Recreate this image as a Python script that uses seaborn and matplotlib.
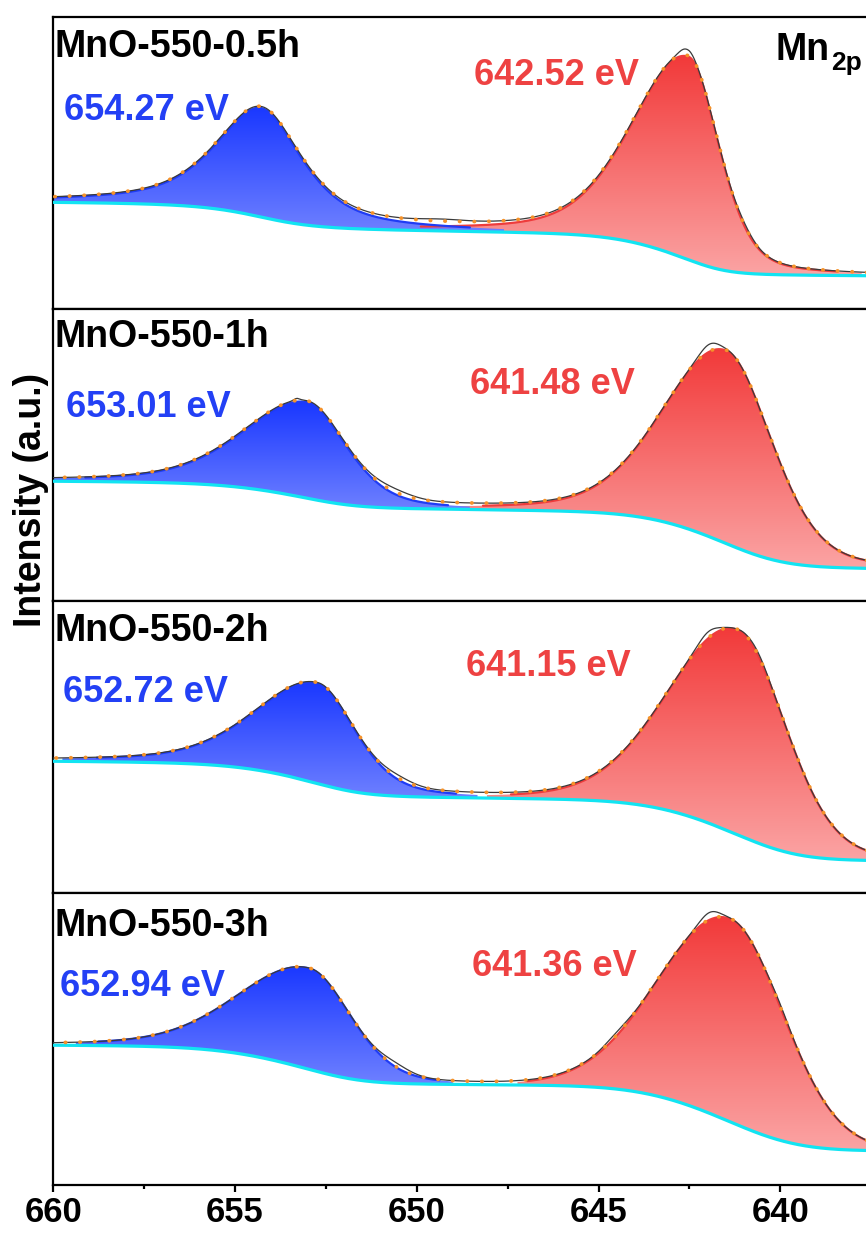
import numpy as np
import pandas as pd
import matplotlib
matplotlib.use("Agg")
import matplotlib.pyplot as plt
from matplotlib.colors import LinearSegmentedColormap
import seaborn as sns

# ---------------- data ----------------
samples = ["MnO-550-0.5h", "MnO-550-1h", "MnO-550-2h", "MnO-550-3h"]

# fitted Mn 2p1/2 and Mn 2p3/2 peak positions (eV)
p12_center = [654.27, 653.01, 652.72, 652.94]
p32_center = [642.52, 641.48, 641.15, 641.36]

# peak heights above the background (a.u.)
p12_height = [109, 96, 100, 101]
p32_height = [203, 193, 205, 203]

# FWHM on the high / low binding-energy side (eV) and Lorentzian fraction
p12_fwhm_hi = [3.0, 4.1, 4.0, 4.5]
p12_fwhm_lo = [2.7, 2.6, 2.5, 2.75]
p12_eta = [0.7, 0.4, 0.4, 0.25]
p32_fwhm_hi = [3.6, 4.0, 4.4, 4.5]
p32_fwhm_lo = [2.0, 3.0, 3.1, 3.5]
p32_eta = [0.35, 0.25, 0.15, 0.05]

# Shirley background: level at the low-BE end and step under each peak
bg_low = [33, 32, 32, 34]
bg_step32 = [45, 60, 63, 66]
bg_step12 = [29, 28, 37, 40]

# raw-minus-fit residual features: (energy eV, height, width eV)
raw_resid = [
    [(642.6, 6, 0.18), (641.0, 2.5, 0.25), (649.3, 2, 0.6)],
    [(641.95, 7, 0.25), (650.6, 3.5, 0.5), (653.3, 2, 0.08)],
    [(642.0, 6, 0.25), (640.6, 2.5, 0.25), (650.5, 3, 0.4)],
    [(641.95, 7, 0.25), (644.5, 3, 0.35), (640.0, 2.5, 0.25), (650.6, 4, 0.4)],
]

x_ticks = [660, 655, 650, 645, 640]

# ---------------- style ----------------
sns.set_theme(style="ticks")
plt.rcParams["font.family"] = ["Liberation Sans", "DejaVu Sans"]
plt.rcParams["font.weight"] = "bold"
plt.rcParams["text.color"] = "black"
plt.rcParams["axes.labelcolor"] = "black"
plt.rcParams["xtick.color"] = "black"
plt.rcParams["axes.linewidth"] = 1.6

BLUE_TOP, BLUE_BOT = "#1a38ff", "#6e80ff"
RED_TOP, RED_BOT = "#f23a3a", "#fba4a4"
BLUE_LINE, RED_LINE = "#1f3cf5", "#ee3c3c"
CYAN = "#12e4f2"
ORANGE = "#f5922a"

FIG_W, FIG_H = 866, 1236
LEFT_PX = 53.3
PX_PER_EV = 36.35
AX_W_PX = 842.7
TOP_PX = 17
PANEL_H = 292

E_HI = 660.0
E_LO = E_HI - AX_W_PX / PX_PER_EV


def px_to_ev(px):
    return E_HI - (px - LEFT_PX) / PX_PER_EV


def split_pv(x, c, a, f_hi, f_lo, eta):
    hw = np.where(x >= c, f_hi, f_lo) / 2.0
    u = (x - c) / hw
    return a * (eta / (1 + u ** 2) + (1 - eta) * np.exp(-np.log(2) * u ** 2))


def shirley_fraction(x, comp):
    c = np.concatenate([[0.0], np.cumsum(0.5 * (comp[1:] + comp[:-1]) * np.diff(x))])
    return c / c[-1]


def gradient_fill(ax, x, lo, hi, c_top, c_bot, thresh=3.0):
    mask = (hi - lo) > thresh
    poly = ax.fill_between(x, lo, hi, where=mask, facecolor="none",
                           edgecolor="none", zorder=1)
    cmap = LinearSegmentedColormap.from_list("grad", [c_bot, c_top])
    grad = np.linspace(0, 1, 256).reshape(-1, 1)
    y0, y1 = lo[mask].min(), hi[mask].max()
    im = ax.imshow(grad, extent=[x.min(), x.max(), y0, y1], origin="lower",
                   cmap=cmap, aspect="auto", zorder=1, interpolation="bilinear")
    im.set_clip_path(poly.get_paths()[0], transform=ax.transData)


fig = plt.figure(figsize=(FIG_W / 100, FIG_H / 100), dpi=100)
x = np.linspace(636.0, 661.0, 2501)

title_base = [40, 38, 40, 43]
blue_lab_x = [63.5, 66, 63, 60]
blue_lab_base = [103, 108, 101, 103]
red_lab_x = [474, 470, 466, 472]
red_lab_base = [68, 85, 75, 83]

for i in range(4):
    top = TOP_PX + i * PANEL_H
    bottom = top + PANEL_H
    ax = fig.add_axes([LEFT_PX / FIG_W, (FIG_H - bottom) / FIG_H,
                       AX_W_PX / FIG_W, PANEL_H / FIG_H])

    blue = split_pv(x, p12_center[i], p12_height[i], p12_fwhm_hi[i],
                    p12_fwhm_lo[i], p12_eta[i])
    red = split_pv(x, p32_center[i], p32_height[i], p32_fwhm_hi[i],
                   p32_fwhm_lo[i], p32_eta[i])
    bg = (bg_low[i] + bg_step32[i] * shirley_fraction(x, red)
          + bg_step12[i] * shirley_fraction(x, blue))
    env = bg + blue + red
    raw = env.copy()
    for (ec, h, w) in raw_resid[i]:
        raw += h * np.exp(-0.5 * ((x - ec) / w) ** 2)

    gradient_fill(ax, x, bg, bg + red, RED_TOP, RED_BOT)
    gradient_fill(ax, x, bg, bg + blue, BLUE_TOP, BLUE_BOT)

    blue_top = np.where(blue > 4.0, bg + blue, np.nan)
    red_top = np.where(red > 4.0, bg + red, np.nan)
    df = pd.DataFrame({"E": x, "blue": blue_top, "red": red_top,
                       "bg": bg, "raw": raw, "env": env})
    sns.lineplot(data=df, x="E", y="red", ax=ax, color=RED_LINE, lw=1.6,
                 zorder=2, errorbar=None)
    sns.lineplot(data=df, x="E", y="blue", ax=ax, color=BLUE_LINE, lw=1.6,
                 zorder=2, errorbar=None)
    sns.lineplot(data=df, x="E", y="bg", ax=ax, color=CYAN, lw=2.3,
                 zorder=3, errorbar=None)
    sns.lineplot(data=df, x="E", y="raw", ax=ax, color="#3a3a3a", lw=0.9,
                 zorder=4, errorbar=None)
    ax.plot(x, env, color=ORANGE, lw=2.7, linestyle=(0, (0.1, 3.8)),
            dash_capstyle="round", zorder=5)

    ax.set_xlim(E_HI, E_LO)
    ax.set_ylim(0, PANEL_H)
    ax.set_yticks([])
    ax.set_xlabel("")
    ax.set_ylabel("")
    for s in ax.spines.values():
        s.set_linewidth(1.6)
        s.set_color("black")

    ax.text(px_to_ev(LEFT_PX + 1.5), PANEL_H - title_base[i], samples[i],
            fontsize=27, fontweight="bold", color="black", ha="left",
            va="baseline")
    ax.text(px_to_ev(blue_lab_x[i]), PANEL_H - blue_lab_base[i],
            f"{p12_center[i]:.2f} eV", fontsize=26, fontweight="bold",
            color="#2340f5", ha="left", va="baseline")
    ax.text(px_to_ev(red_lab_x[i]), PANEL_H - red_lab_base[i],
            f"{p32_center[i]:.2f} eV", fontsize=26, fontweight="bold",
            color="#ee4242", ha="left", va="baseline")

    if i < 3:
        ax.set_xticks([])
    else:
        ax.set_xticks(x_ticks)
        ax.set_xticks([657.5, 652.5, 647.5, 642.5, 637.5], minor=True)
        ax.set_xticklabels([str(t) for t in x_ticks])
        ax.tick_params(axis="x", which="major", direction="out", length=5,
                       width=1.6, labelsize=25, pad=3, colors="black")
        ax.tick_params(axis="x", which="minor", direction="out", length=3,
                       width=1.6, colors="black")
        for lab in ax.get_xticklabels():
            lab.set_fontweight("bold")

# spectral region label
fig.text(775 / FIG_W, 1 - 60 / FIG_H, "Mn", fontsize=27, fontweight="bold",
         color="black", ha="left", va="baseline")
fig.text(831 / FIG_W, 1 - 70 / FIG_H, "2p", fontsize=19, fontweight="bold",
         color="black", ha="left", va="baseline")

fig.text(31 / FIG_W, 1 - 500 / FIG_H, "Intensity (a.u.)", fontsize=27,
         fontweight="bold", color="black", rotation=90, ha="center",
         va="center")

fig.savefig("out.png", dpi=100, facecolor="white")
